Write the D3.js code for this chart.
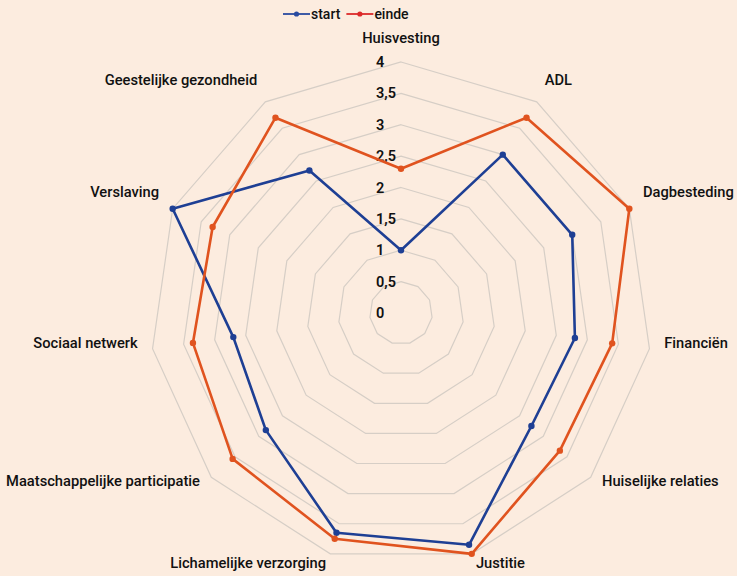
<!DOCTYPE html>
<html>
<head>
<meta charset="utf-8">
<script src="https://cdn.jsdelivr.net/npm/d3@7"></script>
<style>
  body { margin: 0; background: #fcecdf; }
  svg { display: block; font-family: Roboto, "Liberation Sans", sans-serif; }
</style>
</head>
<body>
<svg></svg>
<script>
const categories = ['Huisvesting', 'ADL', 'Dagbesteding', 'Financiën', 'Huiselijke relaties', 'Justitie',
    'Lichamelijke verzorging', 'Maatschappelijke participatie', 'Sociaal netwerk', 'Verslaving', 'Geestelijke gezondheid'];
const startValues = [1, 3, 3, 2.8, 2.75, 3.85, 3.65, 2.85, 2.7, 4, 2.7];
const eindeValues = [2.3, 3.7, 4, 3.4, 3.35, 4, 3.75, 3.55, 3.35, 3.3, 3.7];
const tickValues = [0, 0.5, 1, 1.5, 2, 2.5, 3, 3.5, 4];
const tickLabels = ['0', '0,5', '1', '1,5', '2', '2,5', '3', '3,5', '4'];
const seriesNames = ['start', 'einde'];

const size = {w: 737, h: 576};
const center = {x: 401, y: 313};
const radius = 251;
const colors = {start: '#1e3f94', einde: '#e0531f'};
const legendColors = {start: '#2a4ba0', einde: '#dc2a2a'};

const svg = d3.select('svg')
    .attr('width', size.w)
    .attr('height', size.h);

svg.append('rect').attr('width', size.w).attr('height', size.h).attr('fill', '#fcecdf');

const g = svg.append('g').attr('transform', `translate(${center.x},${center.y})`);

let r = d3.scaleLinear().domain([0, 4]).range([0, radius]);
let angle = d3.scaleLinear().domain([0, categories.length]).range([0, 2 * Math.PI]);

function point(i, v) {
    let a = angle(i);
    return [Math.sin(a) * r(v), -Math.cos(a) * r(v)];
}

// grid rings
tickValues.filter(t => t > 0).forEach(t => {
    g.append('polygon')
        .attr('points', categories.map((c, i) => point(i, t).join(',')).join(' '))
        .attr('fill', 'none')
        .attr('stroke', '#d6cec6')
        .attr('stroke-width', 1.2);
});

// tick labels
g.selectAll('text.tick')
    .data(tickValues)
    .join('text')
    .attr('class', 'tick')
    .attr('x', -25)
    .attr('y', d => -r(d))
    .attr('dy', '0.35em')
    .attr('font-size', 14.5)
    .attr('font-weight', 600)
    .attr('fill', '#111')
    .text((d, i) => tickLabels[i]);

// category labels
g.selectAll('text.cat')
    .data(categories)
    .join('text')
    .attr('class', 'cat')
    .each(function(d, i) {
        let a = angle(i);
        let s = Math.sin(a), c = Math.cos(a);
        let [vx, vy] = point(i, 4);
        let dy = c > 0.2 ? -12 - 12 * c : -9 - 19 * c;
        d3.select(this)
            .attr('x', vx + 15 * s)
            .attr('y', vy + dy)
            .attr('dy', '0.35em')
            .attr('text-anchor', Math.abs(s) < 0.05 ? 'middle' : (s > 0 ? 'start' : 'end'));
    })
    .attr('font-size', 14.7)
    .attr('font-weight', 500)
    .attr('fill', '#111')
    .text(d => d);

// series
const series = [
    {name: seriesNames[0], values: startValues},
    {name: seriesNames[1], values: eindeValues}
];

let line = d3.line().curve(d3.curveLinearClosed);

series.forEach(s => {
    let pts = s.values.map((v, i) => point(i, v));
    g.append('path')
        .attr('d', line(pts))
        .attr('fill', 'none')
        .attr('stroke', colors[s.name])
        .attr('stroke-width', 2.6)
        .attr('stroke-linejoin', 'round');
    g.selectAll(null)
        .data(pts)
        .join('circle')
        .attr('cx', d => d[0])
        .attr('cy', d => d[1])
        .attr('r', 3.2)
        .attr('fill', colors[s.name]);
});

// legend
const legend = svg.append('g').attr('transform', 'translate(283,14)');
let lx = 0;
seriesNames.forEach(name => {
    let item = legend.append('g').attr('transform', `translate(${lx},0)`);
    item.append('line')
        .attr('x1', 0).attr('x2', 27).attr('y1', 0).attr('y2', 0)
        .attr('stroke', legendColors[name]).attr('stroke-width', 1.8);
    item.append('circle').attr('cx', 13.5).attr('cy', 0).attr('r', 2.6).attr('fill', legendColors[name]);
    let t = item.append('text')
        .attr('x', 28).attr('y', 0).attr('dy', '0.35em')
        .attr('font-size', 14).attr('font-weight', 500).attr('fill', '#111')
        .text(name);
    lx += 28 + t.node().getComputedTextLength() + 6;
});
</script>
</body>
</html>
